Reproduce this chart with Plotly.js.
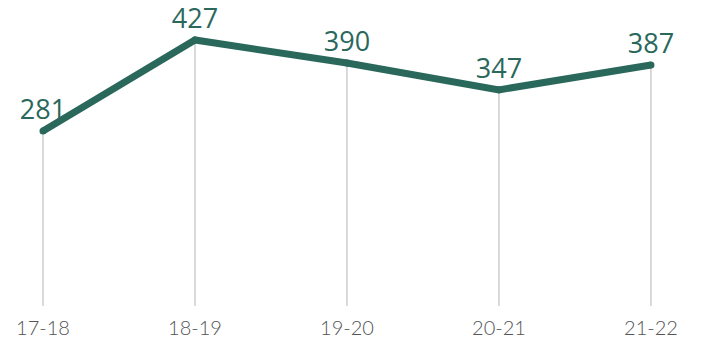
<!DOCTYPE html>
<html>
<head>
<meta charset="utf-8">
<script src="https://cdn.plot.ly/plotly-3.0.1.min.js"></script>
<style>html,body{margin:0;padding:0;background:#fff;}#chart{width:704px;height:346px;}</style>
</head>
<body>
<div id="chart"></div>
<script>
var categories = ["17-18", "18-19", "19-20", "20-21", "21-22"];
var values = [281, 427, 390, 347, 387];
var valueLabels = ["281", "427", "390", "347", "387"];

var zeros = values.map(function(){ return 0; });

var dropLines = {
  x: categories,
  y: values,
  type: "scatter",
  mode: "markers",
  marker: {size: 0.1, color: "rgba(0,0,0,0)"},
  error_y: {type: "data", symmetric: false, array: zeros, arrayminus: values, color: "#b4b4b4", thickness: 1, width: 0},
  hoverinfo: "skip",
  showlegend: false
};

var mainLine = {
  x: categories,
  y: values,
  type: "scatter",
  mode: "lines+markers+text",
  line: {color: "#29685b", width: 7},
  marker: {color: "#29685b", size: 7},
  text: valueLabels,
  textposition: "top center",
  textfont: {family: "Open Sans, sans-serif", size: 27, color: "#29685b"},
  cliponaxis: false,
  showlegend: false
};

var layout = {
  width: 704,
  height: 346,
  margin: {l: 0, r: 0, t: 7, b: 40},
  paper_bgcolor: "#ffffff",
  plot_bgcolor: "#ffffff",
  showlegend: false,
  xaxis: {
    type: "category",
    range: [-0.283, 4.349],
    showgrid: false,
    zeroline: false,
    showline: false,
    ticks: "",
    ticklabelstandoff: 8,
    tickfont: {family: "Lato, sans-serif", size: 20, color: "#555555", weight: 300},
    fixedrange: true
  },
  yaxis: {
    range: [0, 480],
    visible: false,
    showgrid: false,
    zeroline: false,
    fixedrange: true
  }
};

Plotly.newPlot("chart", [dropLines, mainLine], layout, {displayModeBar: false, staticPlot: true});
</script>
</body>
</html>
